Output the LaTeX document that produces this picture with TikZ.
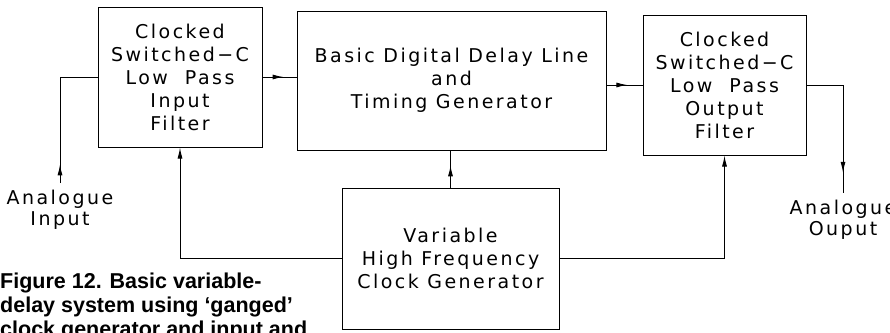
\documentclass[tikz,border=0pt]{standalone}
\usepackage{fontspec}
\usetikzlibrary{arrows.meta,decorations.markings,positioning}
\newfontfamily\cadfont[LetterSpace=13]{DejaVu Sans}
\newfontfamily\capfont{Liberation Sans}

\tikzset{
  blk/.style={draw,line width=1pt,inner sep=0pt,align=center,
    font=\cadfont\fontsize{19}{23}\selectfont},
  sig/.style={inner sep=0pt,inner ysep=7pt,align=center,
    font=\cadfont\fontsize{19}{21}\selectfont},
  wire/.style={line width=1pt},
  flowtip/.style={postaction={decorate},decoration={markings,
    mark=at position #1 with {\arrow{Latex[length=11pt,width=5pt]}}}},
  endtip/.style={-{Latex[length=11pt,width=5pt]}},
}

\begin{document}
\begin{tikzpicture}[x=1pt,y=-1pt]
\useasboundingbox (0,0) rectangle (890,332);
\node[blk,minimum width=164pt,minimum height=140pt](infilt) at (180,77){Clocked\\Switched−C\\Low\ \ Pass\\Input\\Filter};
\node[blk,minimum width=309pt,minimum height=139pt](delay) at (451.5,80.5){Basic Digital Delay Line\\and\\Timing Generator};
\node[blk,minimum width=163pt,minimum height=140pt](outfilt) at (724.5,85){Clocked\\Switched−C\\Low\ \ Pass\\Output\\Filter};
\node[blk,minimum width=217pt,minimum height=141pt](clock) at (450.5,258.5){Variable\\High Frequency\\Clock Generator};
\node[sig,anchor=north](inlbl) at (60,183){Analogue\\Input};
\node[sig,anchor=north](outlbl) at (843,193){Analogue\\Ouput};
% signal path
\draw[wire,flowtip=0.13] (inlbl.north) |- (infilt.west);
\draw[wire,flowtip=0.62] (infilt.east) -- (infilt.east -| delay.west);
\draw[wire,flowtip=0.58] (delay.east |- outfilt.west) -- (outfilt.west);
\draw[wire,flowtip=0.86] (outfilt.east) -| (outlbl.north);
% clock lines
\draw[wire,flowtip=0.6] (clock.north) -- (clock.north |- delay.south);
\draw[wire,endtip] (clock.west) -| (infilt.south);
\draw[wire,endtip] (clock.east) -| (outfilt.south);
% caption
\begin{scope}
\clip (0,0) rectangle (890,332);
\node[anchor=north west,inner sep=0pt,align=left,
  font=\capfont\bfseries\fontsize{21.5}{24}\selectfont](caption) at (0,273)
  {Figure 12. Basic variable-\\delay system using ‘ganged’\\clock generator and input and};
\end{scope}
\end{tikzpicture}
\end{document}
